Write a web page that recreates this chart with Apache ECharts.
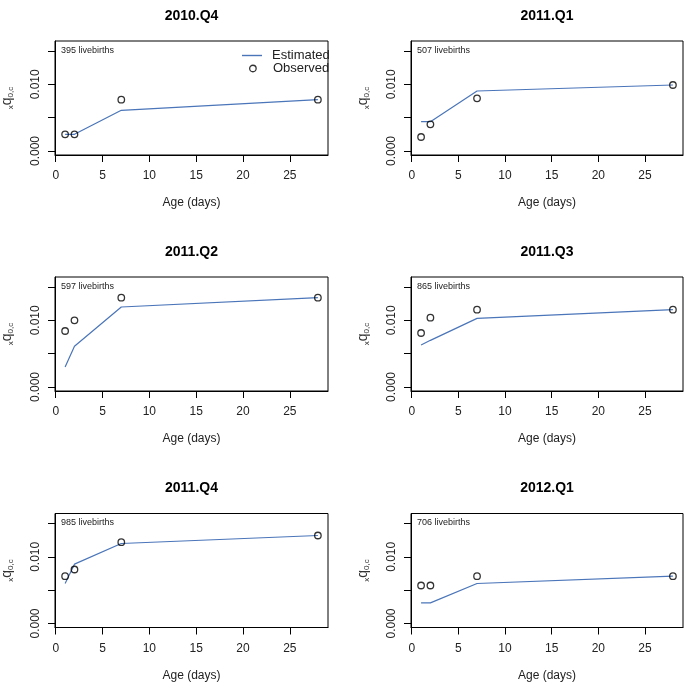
<!DOCTYPE html>
<html>
<head>
<meta charset="utf-8">
<script src="https://cdn.jsdelivr.net/npm/echarts@6/dist/echarts.min.js"></script>
<style>html,body{margin:0;padding:0;background:#fff}#c{width:691px;height:688px}</style>
</head>
<body>
<div id="c"></div>
<script>
var panelTitles = ['2010.Q4', '2011.Q1', '2011.Q2', '2011.Q3', '2011.Q4', '2012.Q1'];
var livebirths = ['395 livebirths', '507 livebirths', '597 livebirths', '865 livebirths', '985 livebirths', '706 livebirths'];
var ages = [1, 2, 7, 28];
var estimated = [
  [0.0025, 0.0025, 0.0061, 0.0077],
  [0.0044, 0.0044, 0.0090, 0.0099],
  [0.0030, 0.0061, 0.0120, 0.0134],
  [0.0063, 0.0070, 0.0103, 0.0116],
  [0.0060, 0.0089, 0.0120, 0.0132],
  [0.0031, 0.0031, 0.0060, 0.0071]
];
var observed = [
  [0.0025, 0.0025, 0.0077, 0.0077],
  [0.0021, 0.0040, 0.0079, 0.0099],
  [0.0084, 0.0100, 0.0134, 0.0134],
  [0.0081, 0.0104, 0.0116, 0.0116],
  [0.0071, 0.0081, 0.0122, 0.0132],
  [0.0057, 0.0057, 0.0071, 0.0071]
];
var xTicks = [0, 5, 10, 15, 20, 25];
var yTicks = [0, 0.005, 0.010, 0.015];
var yLabelTicks = [0, 0.010];
var xLabel = 'Age (days)';

var FONT = '"Liberation Sans", Arial, Helvetica, sans-serif';
var lefts = [55, 411];
var widths = [273, 272];
var tops = [41, 277, 513.5];
var H = 114;

var grids = [], xAxes = [], yAxes = [], series = [], titles = [];
for (var i = 0; i < 6; i++) {
  var col = i % 2, row = Math.floor(i / 2);
  var L = lefts[col], T = tops[row], W = widths[col];
  grids.push({left: L, top: T, width: W, height: H, show: true, borderColor: '#000', borderWidth: 1,
    backgroundColor: 'transparent', containLabel: false, outerBoundsMode: 'none'});
  xAxes.push({
    gridIndex: i, type: 'value', min: -0.08, max: 29.08, position: 'bottom',
    name: xLabel, nameLocation: 'middle', nameGap: 42,
    nameTextStyle: {fontFamily: FONT, fontSize: 12, color: '#222'},
    axisLine: {show: true, onZero: false, lineStyle: {color: '#000', width: 1}},
    axisTick: {show: true, inside: false, length: 7, customValues: xTicks, lineStyle: {color: '#000', width: 1}},
    axisLabel: {customValues: xTicks, fontFamily: FONT, fontSize: 12, color: '#222', margin: 15},
    splitLine: {show: false}
  });
  yAxes.push({
    gridIndex: i, type: 'value', min: -0.0006, max: 0.0165, position: 'left',
    name: '{a|x}{b|q}{c|0,c}', nameLocation: 'middle', nameGap: 40, nameRotate: 90,
    nameTextStyle: {
      color: '#333', fontFamily: FONT,
      rich: {
        a: {fontSize: 8, fontFamily: FONT, color: '#333', verticalAlign: 'bottom', lineHeight: 15},
        b: {fontSize: 14, fontFamily: FONT, color: '#333', lineHeight: 15},
        c: {fontSize: 8, fontFamily: FONT, color: '#333', verticalAlign: 'bottom', lineHeight: 15}
      }
    },
    axisLine: {show: true, onZero: false, lineStyle: {color: '#000', width: 1}},
    axisTick: {show: true, inside: false, length: 7, customValues: yTicks, lineStyle: {color: '#000', width: 1}},
    axisLabel: {
      customValues: yLabelTicks, rotate: 90, fontFamily: FONT, fontSize: 12, color: '#222', margin: 13,
      formatter: function (v) { return Math.abs(v) < 1e-9 ? '0.000' : v.toFixed(3); }
    },
    splitLine: {show: false}
  });
  series.push({
    name: 'Estimated', type: 'line', xAxisIndex: i, yAxisIndex: i,
    data: ages.map(function (a, k) { return [a, estimated[i][k]]; }),
    symbol: 'none', lineStyle: {color: '#4a75b9', width: 1.2}, itemStyle: {color: '#4a75b9'},
    z: 2, animation: false
  });
  series.push({
    name: 'Observed', type: 'scatter', xAxisIndex: i, yAxisIndex: i,
    data: ages.map(function (a, k) { return [a, observed[i][k]]; }),
    symbol: 'circle', symbolSize: 6.5,
    itemStyle: {color: 'rgba(0,0,0,0)', borderColor: '#000', borderWidth: 1.3},
    z: 3, animation: false
  });
  titles.push({
    text: panelTitles[i], left: L + W / 2, top: T - 32, textAlign: 'center', padding: 0,
    textStyle: {fontFamily: FONT, fontSize: 14, fontWeight: 'bold', color: '#000'}
  });
  titles.push({
    text: livebirths[i], left: L + 6, top: T + 5, padding: 0,
    textStyle: {fontFamily: FONT, fontSize: 9, fontWeight: 'normal', color: '#222'}
  });
}

var chart = echarts.init(document.getElementById('c'), null, {renderer: 'canvas'});
chart.setOption({
  animation: false,
  backgroundColor: '#fff',
  title: titles,
  grid: grids,
  xAxis: xAxes,
  yAxis: yAxes,
  series: series,
  legend: [
    {
      left: 242, top: 49, padding: 0, itemWidth: 20, itemHeight: 1.4, icon: 'rect',
      textStyle: {fontFamily: FONT, fontSize: 13, color: '#222', padding: [0, 0, 0, 5]},
      data: ['Estimated'], selectedMode: false
    },
    {
      left: 249, top: 62, padding: 0, itemWidth: 20, itemHeight: 6.5, icon: 'circle',
      itemStyle: {color: 'rgba(0,0,0,0)', borderColor: '#000', borderWidth: 1.3},
      textStyle: {fontFamily: FONT, fontSize: 13, color: '#222', padding: [0, 0, 0, 5]},
      data: ['Observed'], selectedMode: false
    }
  ]
});
</script>
</body>
</html>
